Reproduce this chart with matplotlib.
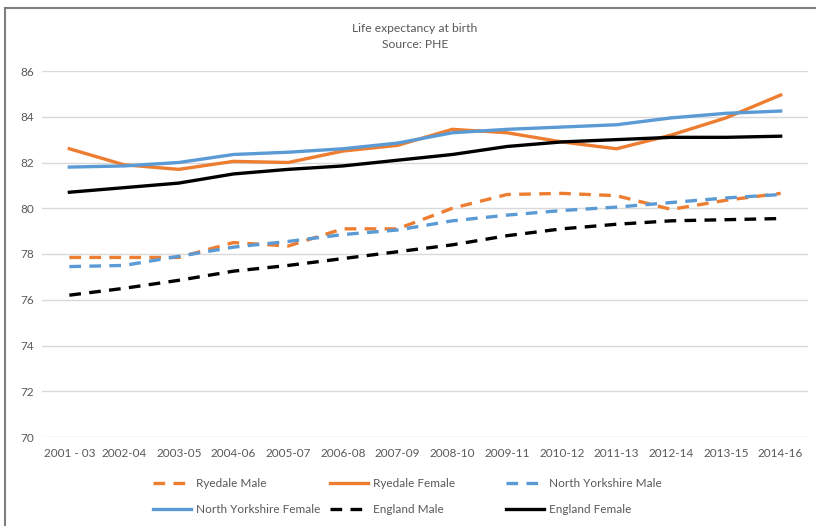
import matplotlib.pyplot as plt
from matplotlib.lines import Line2D

plt.rcParams['font.family'] = ['Lato', 'DejaVu Sans']

periods = ['2001 - 03', '2002-04', '2003-05', '2004-06', '2005-07', '2006-08', '2007-09',
           '2008-10', '2009-11', '2010-12', '2011-13', '2012-14', '2013-15', '2014-16']

ryedale_male = [77.85, 77.85, 77.85, 78.5, 78.35, 79.1, 79.1, 80.0, 80.6, 80.65, 80.55, 79.95, 80.35, 80.65]
ryedale_female = [82.6, 81.9, 81.7, 82.05, 82.0, 82.5, 82.75, 83.45, 83.3, 82.9, 82.6, 83.2, 83.95, 84.95]
ny_male = [77.45, 77.5, 77.9, 78.3, 78.55, 78.85, 79.05, 79.45, 79.7, 79.9, 80.05, 80.25, 80.45, 80.6]
ny_female = [81.8, 81.85, 82.0, 82.35, 82.45, 82.6, 82.85, 83.3, 83.45, 83.55, 83.65, 83.95, 84.15, 84.25]
eng_male = [76.2, 76.5, 76.85, 77.25, 77.5, 77.8, 78.1, 78.4, 78.8, 79.1, 79.3, 79.45, 79.5, 79.55]
eng_female = [80.7, 80.9, 81.1, 81.5, 81.7, 81.85, 82.1, 82.35, 82.7, 82.9, 83.0, 83.1, 83.1, 83.15]

orange = '#ED7D31'
blue = '#5B9BD5'
black = '#000000'
grey = '#595959'

fig = plt.figure(figsize=(8.16, 5.26), dpi=100)
ax = fig.add_axes([42 / 816, 1 - 437 / 526, (808 - 42) / 816, (437 - 71) / 526])

x = list(range(len(periods)))
dash = (0, (3.5, 2.5))
series = [
    ('Ryedale Male', ryedale_male, orange, dash),
    ('Ryedale Female', ryedale_female, orange, '-'),
    ('North Yorkshire Male', ny_male, blue, dash),
    ('North Yorkshire Female', ny_female, blue, '-'),
    ('England Male', eng_male, black, dash),
    ('England Female', eng_female, black, '-'),
]
handles = []
for name, vals, col, ls in series:
    h, = ax.plot(x, vals, color=col, linestyle=ls, linewidth=2.4, label=name)
    handles.append(h)

ax.set_xlim(-0.5, 13.5)
ax.set_ylim(70, 86)
ax.set_yticks(range(70, 87, 2))
ax.set_xticks(x)
ax.set_xticklabels(periods)
ax.grid(axis='y', color='#D9D9D9', linewidth=1)
ax.set_axisbelow(True)
for s in ax.spines.values():
    s.set_visible(False)
ax.tick_params(length=0, labelsize=8.5, colors=grey, pad=8)
ax.tick_params(axis='y', pad=6)

fig.text(415 / 816, 1 - 28 / 526, 'Life expectancy at birth', ha='center', va='center',
         fontsize=8.7, color=grey)
fig.text(415 / 816, 1 - 45 / 526, 'Source: PHE', ha='center', va='center',
         fontsize=8.7, color=grey)

# legend laid out row-wise in three fixed columns, like the original
col_x = [153, 330, 506]
for j, cx in enumerate(col_x):
    hs = [handles[j], handles[j + 3]]
    leg = fig.legend(hs, [h.get_label() for h in hs], loc='upper left',
                     bbox_to_anchor=(cx / 816, 1 - 478 / 526), frameon=False,
                     fontsize=8.5, handlelength=3.2, handletextpad=0.45,
                     borderpad=0, borderaxespad=0, labelspacing=1.3)
    for t in leg.get_texts():
        t.set_color(grey)

# chart border (only top and left edges visible)
fig.add_artist(Line2D([5 / 816, 5 / 816], [0, 1 - 8 / 526], color='#7F7F7F', linewidth=1.5))
fig.add_artist(Line2D([5 / 816, 1], [1 - 8 / 526, 1 - 8 / 526], color='#7F7F7F', linewidth=1.5))

fig.savefig('out.png', dpi=100)
